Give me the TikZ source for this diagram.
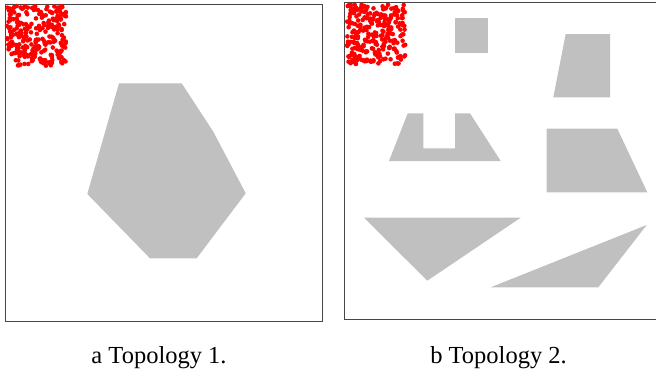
\documentclass[tikz,border=0pt]{standalone}
\usepackage{fontspec}
\setmainfont{Liberation Serif}
\definecolor{obst}{RGB}{192,192,192}
\definecolor{frame}{RGB}{70,70,70}
\tikzset{
  obstacle/.style={fill=obst, draw=none},
  panel/.style={draw=frame, line width=0.8pt},
  dot/.style={fill=red, draw=none},
  caption/.style={font=\fontsize{24.5}{29}\selectfont, inner sep=0pt, anchor=base}
}
\begin{document}
\begin{tikzpicture}[x=1pt,y=-1pt]
\useasboundingbox (0,0) rectangle (656,372);
% panels
\draw[panel] (5,4) rectangle (322,321);
\draw[panel] (344.5,2.5) rectangle (661,319.5);
% left obstacle
\fill[obstacle] (119,83.3) -- (181.7,83.3) -- (213.3,131.7) -- (245.7,193.3) -- (196.7,258.3) -- (150,258.3) -- (87.3,194) -- cycle;
% right obstacles
\fill[obstacle] (455,17.5) rectangle (488,53);
\fill[obstacle] (389,161) -- (407.7,113.3) -- (423.3,113.3) -- (423.3,148.3) -- (455,148.3) -- (455,113.3) -- (470,113.3) -- (500.7,161) -- cycle;
\fill[obstacle] (565.7,34) -- (610,34) -- (610,97.3) -- (553.3,97.3) -- cycle;
\fill[obstacle] (546.7,128.7) -- (617.3,128.7) -- (647.3,192.3) -- (546.7,192.3) -- cycle;
\fill[obstacle] (364,217.7) -- (520.7,217.7) -- (427.3,280.7) -- cycle;
\fill[obstacle] (646.7,225) -- (598.3,287.3) -- (490.7,287.3) -- cycle;
% particles
\pgfmathsetseed{4242}
\foreach \i in {1,...,270} {
  \pgfmathsetmacro{\rx}{7+59*rnd}
  \pgfmathsetmacro{\ry}{6+60*rnd}
  \fill[dot] (\rx,\ry) circle (2.3);
}
\foreach \i in {1,...,270} {
  \pgfmathsetmacro{\rx}{346.5+59*rnd}
  \pgfmathsetmacro{\ry}{4.5+60*rnd}
  \fill[dot] (\rx,\ry) circle (2.3);
}
% captions
\node[caption] (capa) at (159,363) {a Topology 1.};
\node[caption] (capb) at (498.5,363) {b Topology 2.};
\end{tikzpicture}
\end{document}
